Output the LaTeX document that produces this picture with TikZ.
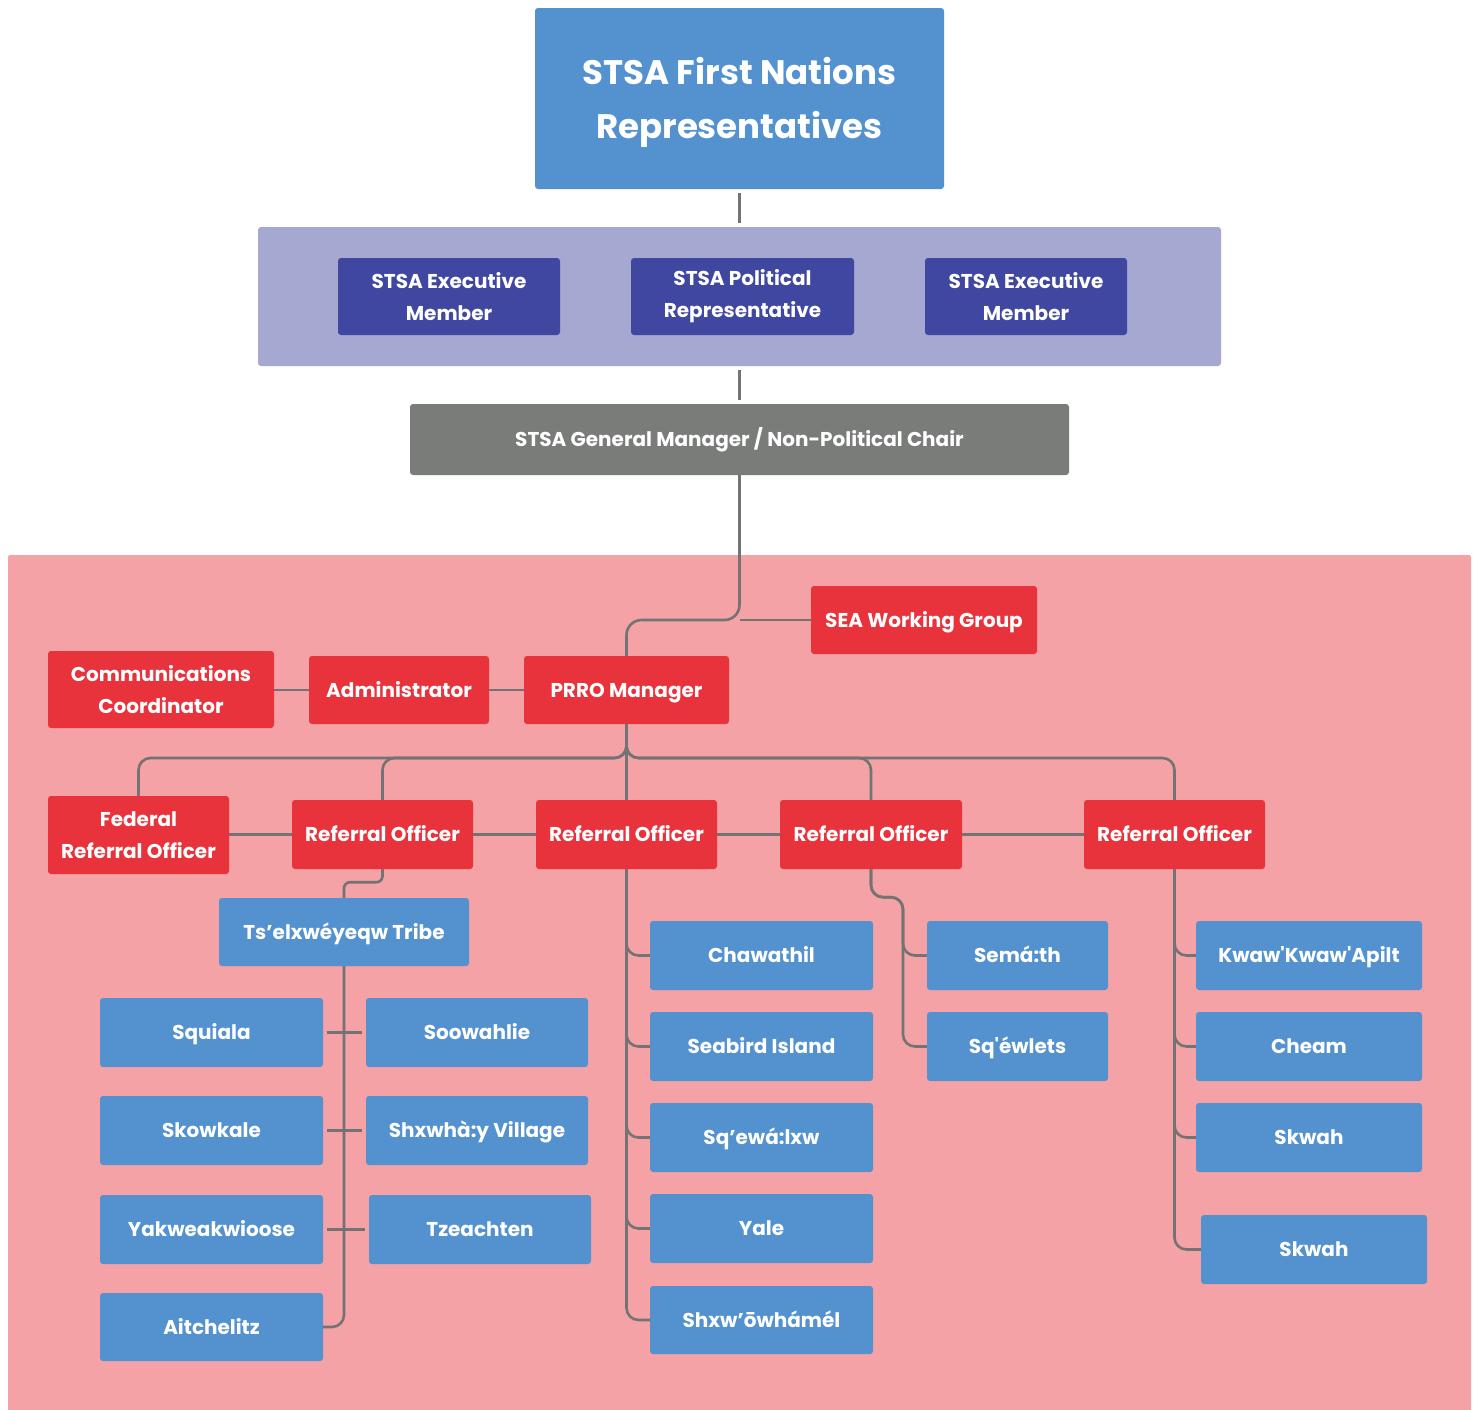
\documentclass[tikz,border=0pt]{standalone}
\usepackage{fontspec}
\setmainfont{Poppins}[Ligatures=TeXOff]
\usetikzlibrary{calc}
\definecolor{cblue}{RGB}{83,146,207}
\definecolor{cred}{RGB}{233,51,60}
\definecolor{cpink}{RGB}{244,162,166}
\definecolor{clav}{RGB}{165,168,208}
\definecolor{cnavy}{RGB}{63,71,160}
\definecolor{cgbox}{RGB}{122,124,122}
\definecolor{cline}{RGB}{115,115,115}
\tikzset{
  base/.style={rounded corners=3pt, inner sep=0pt, align=center, text=white, font=\bfseries\fontsize{20}{32}\selectfont},
  one/.style={text height=15pt, text depth=1pt},
  bluebox/.style={base, one, fill=cblue},
  redbox/.style={base, one, fill=cred},
  redtwo/.style={base, fill=cred},
  navybox/.style={base, fill=cnavy},
  greybox/.style={base, one, fill=cgbox},
  panelbox/.style={base, fill=clav},
  pinkbox/.style={base, fill=cpink, rounded corners=2pt},
  conn/.style={draw=cline, line width=2.6pt, rounded corners=12pt},
  gap/.style={shorten <=4pt, shorten >=4pt},
}
\newcommand\bx[7]{\node[#1, minimum width={(#5-#3)*1pt}, minimum height={(#6-#4)*1pt}] (#2) at ({(#3+#5)/2},{(#4+#6)/2}) {#7};}
\begin{document}
\begin{tikzpicture}[x=1pt,y=-1pt]
\useasboundingbox (0,0) rectangle (1477,1409);
\fill[white] (0,0) rectangle (1477,1409);
% backgrounds
\bx{pinkbox}{pink}{8}{555}{1471}{1412}{}
\bx{panelbox}{panel}{258}{227}{1221}{366}{}
% top levels
\node[base, fill=cblue, minimum width=409pt, minimum height=181pt] (top) at (739.5,98.5) {};
\node[text=white, font=\bfseries\fontsize{34}{54}\selectfont, align=center, inner sep=0pt] (toptext) at (739.5,102) {STSA First Nations\\Representatives};
\bx{navybox}{exec1}{338}{258}{560}{335}{STSA Executive\\Member}
\bx{navybox}{pol}{631}{258}{854}{335}{STSA Political\\Representative}
\bx{navybox}{exec2}{925}{258}{1127}{335}{STSA Executive\\Member}
\bx{greybox}{gm}{410}{404}{1069}{475}{STSA General Manager / Non-Political Chair}
% red level
\bx{redbox}{sea}{811}{586}{1037}{654}{SEA Working Group}
\bx{redbox}{prro}{524}{656}{729}{724}{PRRO Manager}
\bx{redbox}{admin}{309}{656}{489}{724}{Administrator}
\bx{redtwo}{comm}{48}{651}{274}{728}{Communications\\Coordinator}
\bx{redtwo}{fed}{48}{796}{229}{874}{Federal\\Referral Officer}
\bx{redbox}{r1}{292}{800}{473}{869}{Referral Officer}
\bx{redbox}{r2}{536}{800}{717}{869}{Referral Officer}
\bx{redbox}{r3}{780}{800}{962}{869}{Referral Officer}
\bx{redbox}{r4}{1084}{800}{1265}{869}{Referral Officer}
% blue leaves
\bx{bluebox}{tribe}{219}{898}{469}{966}{Ts’elxwéyeqw Tribe}
\bx{bluebox}{squiala}{100}{998}{323}{1067}{Squiala}
\bx{bluebox}{soowahlie}{366}{998}{588}{1067}{Soowahlie}
\bx{bluebox}{skowkale}{100}{1096}{323}{1165}{Skowkale}
\bx{bluebox}{shxwhay}{366}{1096}{588}{1165}{Shxwhà:y Village}
\bx{bluebox}{yakw}{100}{1195}{323}{1264}{Yakweakwioose}
\bx{bluebox}{tzeachten}{369}{1195}{591}{1264}{Tzeachten}
\bx{bluebox}{aitch}{100}{1293}{323}{1361}{Aitchelitz}
\bx{bluebox}{chawathil}{650}{921}{873}{990}{Chawathil}
\bx{bluebox}{seabird}{650}{1012}{873}{1081}{Seabird Island}
\bx{bluebox}{sqewalxw}{650}{1103}{873}{1172}{Sq’ewá:lxw}
\bx{bluebox}{yale}{650}{1194}{873}{1263}{Yale}
\bx{bluebox}{shxwow}{650}{1286}{873}{1354}{Shxw’ōwhámél}
\bx{bluebox}{semath}{927}{921}{1108}{990}{Semá:th}
\bx{bluebox}{sqewlets}{927}{1012}{1108}{1081}{Sq'éwlets}
\bx{bluebox}{kwaw}{1196}{921}{1422}{990}{Kwaw'Kwaw'Apilt}
\bx{bluebox}{cheam}{1196}{1012}{1422}{1081}{Cheam}
\bx{bluebox}{skwahA}{1196}{1103}{1422}{1172}{Skwah}
\bx{bluebox}{skwahB}{1201}{1215}{1427}{1284}{Skwah}
% connectors
\draw[conn, gap] (top.south) -- (panel.north);
\draw[conn, gap] (panel.south) -- (gm.north);
\draw[conn, rounded corners=15pt] (gm.south) -- (gm.south |- sea.west) -- (prro.north |- sea.west) -- (prro.north);
\draw[conn] (gm.south |- sea.west) -- (sea.west);
\draw[conn] (comm.east |- admin.west) -- (admin.west);
\draw[conn] (admin.east) -- (prro.west);
\coordinate (fk) at (626.5,758);
\foreach \r in {fed,r1,r3,r4}{
  \draw[conn] (prro.south) -- (prro.south |- fk) -- (\r.north |- fk) -- (\r.north);
}
\draw[conn] (prro.south) -- (r2.north);
\draw[conn] (fed.east |- r1.west) -- (r1.west);
\draw[conn] (r1.east) -- (r2.west);
\draw[conn] (r2.east) -- (r3.west);
\draw[conn] (r3.east) -- (r4.west);
% R1 subtree
\draw[conn, rounded corners=6pt] (r1.south) -- ++(0,13) -| (tribe.north);
\draw[conn] (tribe.south) |- (aitch.east);
\draw[conn, gap] (squiala.east) -- (soowahlie.west);
\draw[conn, gap] (skowkale.east) -- (shxwhay.west);
\draw[conn, gap] (yakw.east) -- (tzeachten.west);
% R2 subtree
\foreach \c in {chawathil,seabird,sqewalxw,yale,shxwow}{
  \draw[conn] (r2.south) |- (\c.west);
}
% R3 subtree
\foreach \c in {semath,sqewlets}{
  \draw[conn] (r3.south) -- ++(0,28) -- ++(32,0) |- (\c.west);
}
% R4 subtree
\foreach \c in {kwaw,cheam,skwahA,skwahB}{
  \draw[conn] (r4.south) |- (\c.west);
}
\end{tikzpicture}
\end{document}
